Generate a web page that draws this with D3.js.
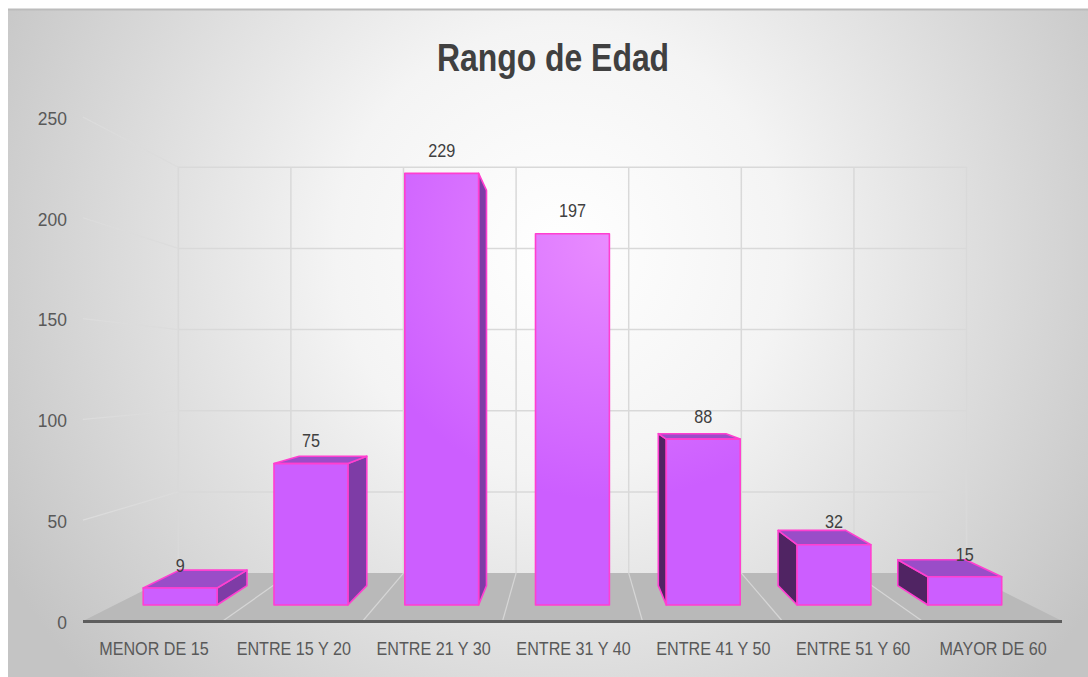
<!DOCTYPE html>
<html>
<head>
<meta charset="utf-8">
<script src="https://cdn.jsdelivr.net/npm/d3@7"></script>
<style>
    html, body { margin: 0; padding: 0; background: #ffffff; }
    svg { display: block; }
    text { font-family: "Liberation Sans Narrow", "Liberation Sans", Arial, sans-serif; }
</style>
</head>
<body>
<script>
var categories = ["MENOR DE 15", "ENTRE 15 Y 20", "ENTRE 21 Y 30", "ENTRE 31 Y 40",
    "ENTRE 41 Y 50", "ENTRE 51 Y 60", "MAYOR DE 60"];
var values = [9, 75, 229, 197, 88, 32, 15];
var yTicks = [0, 50, 100, 150, 200, 250];
var title = "Rango de Edad";

var width = 1088, height = 677;

// perspective: front plane is drawn by the scales, deeper planes shrink toward the eye point
var eye = { x: 572, y: 375 };
var backDepth = 0.242, barFront = 0.0695, barBack = 0.168;

var x = d3.scaleBand().domain(categories).range([83, 1062]).paddingInner(0);
var y = d3.scaleLinear().domain([0, 250]).range([621, 117]);

function project(px, py, depth) {
    var s = 1 / (1 + depth);
    return [eye.x + (px - eye.x) * s, eye.y + (py - eye.y) * s];
}
function poly(pts) {
    return "M" + pts.map(function(p) { return p[0].toFixed(1) + "," + p[1].toFixed(1); }).join("L") + "Z";
}
// the original uses a condensed face, so squeeze the text horizontally
function squeeze(sel, px, py, sx) {
    return sel.attr("transform", "translate(" + px + "," + py + ") scale(" + sx + ",1)");
}

var svg = d3.select("body").append("svg")
    .attr("width", width)
    .attr("height", height);

var defs = svg.append("defs");

var bg = defs.append("radialGradient")
    .attr("id", "bgGrad")
    .attr("gradientUnits", "userSpaceOnUse")
    .attr("cx", 560).attr("cy", 250).attr("r", 640);
bg.append("stop").attr("offset", "0").attr("stop-color", "#ffffff");
bg.append("stop").attr("offset", "0.35").attr("stop-color", "#f4f4f4");
bg.append("stop").attr("offset", "1").attr("stop-color", "#c4c4c4");

var barGrad = defs.append("radialGradient")
    .attr("id", "barGrad")
    .attr("gradientUnits", "userSpaceOnUse")
    .attr("cx", 610).attr("cy", 240).attr("r", 260);
barGrad.append("stop").attr("offset", "0").attr("stop-color", "#e98cff");
barGrad.append("stop").attr("offset", "1").attr("stop-color", "#cc5eff");

svg.append("rect")
    .attr("x", 8).attr("y", 9)
    .attr("width", width - 8).attr("height", height - 9)
    .attr("fill", "url(#bgGrad)");
svg.append("line")
    .attr("x1", 8).attr("x2", width)
    .attr("y1", 9.5).attr("y2", 9.5)
    .attr("stroke", "#bcbcbc")
    .attr("stroke-width", 2);

// title
svg.append("text")
    .call(squeeze, 553, 57, 0.84)
    .attr("text-anchor", "middle")
    .attr("dominant-baseline", "central")
    .attr("font-size", 38)
    .attr("font-weight", "bold")
    .attr("fill", "#404040")
    .text(title);

var x0 = x.range()[0], x1 = x.range()[1];
var boundaries = categories.map(function(c) { return x(c); }).concat([x1]);

// floor
svg.append("path")
    .attr("d", poly([project(x0, y(0), 0), project(x0, y(0), backDepth),
        project(x1, y(0), backDepth), project(x1, y(0), 0)]))
    .attr("fill", "#b9b9b9");

svg.selectAll("line.floorline")
    .data(boundaries.slice(1, -1)).enter()
    .append("line")
    .attr("class", "floorline")
    .attr("x1", function(d) { return project(d, y(0), 0)[0]; })
    .attr("y1", function(d) { return project(d, y(0), 0)[1]; })
    .attr("x2", function(d) { return project(d, y(0), backDepth)[0]; })
    .attr("y2", function(d) { return project(d, y(0), backDepth)[1]; })
    .attr("stroke", "#d6d6d6")
    .attr("stroke-width", 1.2);

// back wall gridlines
svg.selectAll("line.hgrid")
    .data(yTicks.slice(1)).enter()
    .append("line")
    .attr("class", "hgrid")
    .attr("x1", project(x0, 0, backDepth)[0])
    .attr("x2", project(x1, 0, backDepth)[0])
    .attr("y1", function(d) { return project(x0, y(d), backDepth)[1]; })
    .attr("y2", function(d) { return project(x0, y(d), backDepth)[1]; })
    .attr("stroke", "#d9d9d9")
    .attr("stroke-width", 1.5);

svg.selectAll("line.vgrid")
    .data(boundaries).enter()
    .append("line")
    .attr("class", "vgrid")
    .attr("x1", function(d) { return project(d, y(0), backDepth)[0]; })
    .attr("x2", function(d) { return project(d, y(0), backDepth)[0]; })
    .attr("y1", project(x0, y(0), backDepth)[1])
    .attr("y2", project(x0, y(250), backDepth)[1])
    .attr("stroke", "#d9d9d9")
    .attr("stroke-width", 1.5);

// side wall gridlines
svg.selectAll("line.sgrid")
    .data(yTicks.slice(1)).enter()
    .append("line")
    .attr("class", "sgrid")
    .attr("x1", function(d) { return project(x0, y(d), 0)[0]; })
    .attr("y1", function(d) { return project(x0, y(d), 0)[1]; })
    .attr("x2", function(d) { return project(x0, y(d), backDepth)[0]; })
    .attr("y2", function(d) { return project(x0, y(d), backDepth)[1]; })
    .attr("stroke", "#dcdcdc")
    .attr("stroke-width", 1.2);

// floor front edge
svg.append("line")
    .attr("x1", x0).attr("x2", x1)
    .attr("y1", y(0) + 0.5).attr("y2", y(0) + 0.5)
    .attr("stroke", "#5e5e5e")
    .attr("stroke-width", 3);

// bars
var barW = x.bandwidth() * 0.565;
var bars = svg.selectAll("g.bar")
    .data(values.map(function(v, i) { return { cat: categories[i], value: v }; })).enter()
    .append("g")
    .attr("class", "bar");

bars.each(function(d) {
    var g = d3.select(this),
        cx = x(d.cat) + x.bandwidth() / 2,
        l = cx - barW / 2, r = cx + barW / 2,
        t = y(d.value), b = y(0);
    var fTL = project(l, t, barFront), fTR = project(r, t, barFront),
        fBL = project(l, b, barFront), fBR = project(r, b, barFront),
        bTL = project(l, t, barBack), bTR = project(r, t, barBack),
        bBL = project(l, b, barBack), bBR = project(r, b, barBack);
    var edge = { stroke: "#ff3fd0", width: 1.6 };

    if (r < eye.x) {
        g.append("path").attr("d", poly([fTR, bTR, bBR, fBR]))
            .attr("fill", "#7e3ca6")
            .attr("stroke", edge.stroke).attr("stroke-width", edge.width)
            .attr("stroke-linejoin", "round");
    } else if (l > eye.x) {
        g.append("path").attr("d", poly([fTL, bTL, bBL, fBL]))
            .attr("fill", "#502463")
            .attr("stroke", edge.stroke).attr("stroke-width", edge.width)
            .attr("stroke-linejoin", "round");
    }
    if (t > eye.y) {
        g.append("path").attr("d", poly([fTL, bTL, bTR, fTR]))
            .attr("fill", "#9a4dc8")
            .attr("stroke", edge.stroke).attr("stroke-width", edge.width)
            .attr("stroke-linejoin", "round");
    }
    g.append("path").attr("d", poly([fTL, fTR, fBR, fBL]))
        .attr("fill", "url(#barGrad)")
        .attr("stroke", edge.stroke).attr("stroke-width", edge.width)
        .attr("stroke-linejoin", "round");

    g.append("text")
        .call(squeeze, project(cx, t, barFront)[0], fTL[1] - 22, 0.9)
        .attr("text-anchor", "middle")
        .attr("dominant-baseline", "central")
        .attr("font-size", 18)
        .attr("fill", "#404040")
        .text(d.value);
});

// y axis labels
svg.selectAll("text.ytick")
    .data(yTicks).enter()
    .append("text")
    .attr("class", "ytick")
    .each(function(d) { squeeze(d3.select(this), 67, y(d) + 1, 0.92); })
    .attr("text-anchor", "end")
    .attr("dominant-baseline", "central")
    .attr("font-size", 19)
    .attr("fill", "#595959")
    .text(function(d) { return d; });

// category labels
svg.selectAll("text.xtick")
    .data(categories).enter()
    .append("text")
    .attr("class", "xtick")
    .each(function(d) { squeeze(d3.select(this), x(d) + x.bandwidth() / 2 + 1, 649, 0.85); })
    .attr("text-anchor", "middle")
    .attr("dominant-baseline", "central")
    .attr("font-size", 19)
    .attr("fill", "#595959")
    .text(function(d) { return d; });
</script>
</body>
</html>
